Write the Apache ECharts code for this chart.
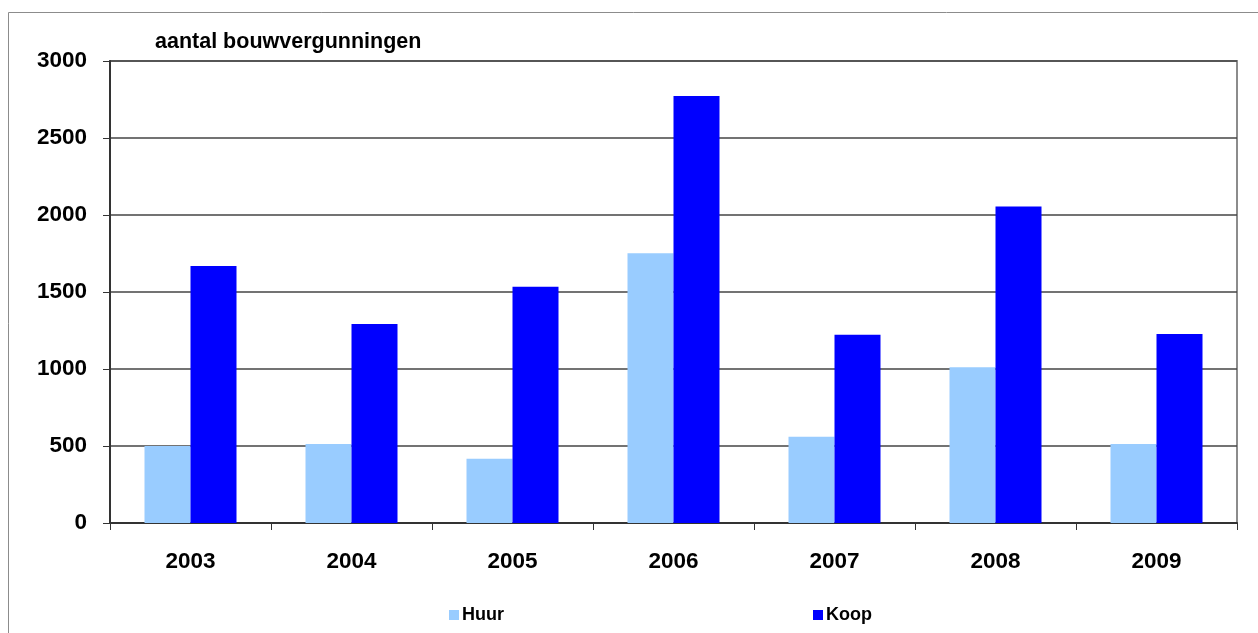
<!DOCTYPE html>
<html>
<head>
<meta charset="utf-8">
<script src="https://cdn.jsdelivr.net/npm/echarts@6/dist/echarts.min.js"></script>
<style>
  html, body { margin: 0; padding: 0; background: #fff; }
  #chart { width: 1258px; height: 633px; }
</style>
</head>
<body>
<div id="chart"></div>
<script>
// jaren en aantallen
let years = ['2003', '2004', '2005', '2006', '2007', '2008', '2009'];
let huur = [500, 513, 417, 1751, 560, 1011, 513];
let koop = [1669, 1292, 1534, 2773, 1223, 2056, 1227];
let yTicks = [0, 500, 1000, 1500, 2000, 2500, 3000];

let font = 'Arial, "Liberation Sans", sans-serif';

let chart = echarts.init(document.getElementById('chart'));

chart.setOption({
    animation: false,
    backgroundColor: '#fff',
    graphic: [{
        type: 'rect',
        shape: { x: 8.5, y: 12.5, width: 1300, height: 700 },
        style: { fill: 'none', stroke: '#8c8c8c', lineWidth: 1 },
        z: 0
    }, {
        type: 'text',
        left: 155,
        top: 31,
        style: { text: 'aantal bouwvergunningen', font: 'bold 21.5px ' + font, fill: '#000' }
    }],
    grid: {
        left: 110,
        right: 21,
        top: 61,
        bottom: 110,
        show: true,
        borderColor: '#8c8c8c',
        borderWidth: 2,
        backgroundColor: 'transparent'
    },
    legend: {
        data: ['Huur', 'Koop'],
        left: 444,
        top: 601,
        icon: 'rect',
        itemWidth: 10,
        itemHeight: 10,
        itemGap: 309,
        textStyle: { fontFamily: font, fontWeight: 'bold', fontSize: 18, color: '#000', padding: [0, 0, 0, -2] }
    },
    xAxis: {
        type: 'category',
        data: years,
        axisLine: { lineStyle: { color: '#333', width: 2 } },
        axisTick: { show: true, alignWithLabel: false, length: 7, lineStyle: { color: '#333', width: 1 } },
        axisLabel: { margin: 27, fontFamily: font, fontWeight: 'bold', fontSize: 22.5, color: '#000' },
        splitLine: { show: false }
    },
    yAxis: {
        type: 'value',
        min: yTicks[0],
        max: yTicks[yTicks.length - 1],
        interval: 500,
        axisLine: { show: true, lineStyle: { color: '#333', width: 2 } },
        axisTick: { show: true, length: 7, lineStyle: { color: '#333', width: 1 } },
        axisLabel: {
            margin: 23, fontFamily: font, fontWeight: 'bold', fontSize: 22.5, color: '#000',
            formatter: (v) => String(v)
        },
        splitLine: { show: true, lineStyle: { color: '#444', width: 1.5 } }
    },
    series: [{
        name: 'Huur',
        type: 'bar',
        data: huur,
        barWidth: 46,
        barGap: '0%',
        itemStyle: { color: '#99ccff' }
    }, {
        name: 'Koop',
        type: 'bar',
        data: koop,
        barWidth: 46,
        itemStyle: { color: '#0000ff' }
    }]
});
</script>
</body>
</html>
